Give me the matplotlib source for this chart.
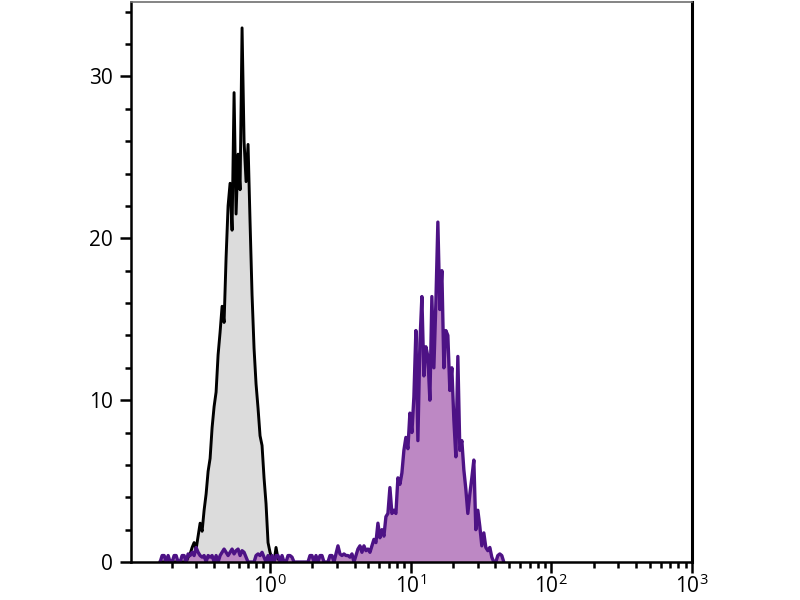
import numpy as np
import matplotlib
matplotlib.use("Agg")
import matplotlib.pyplot as plt
from matplotlib.ticker import FixedLocator, FixedFormatter, NullFormatter

plt.rcParams['font.family'] = ['Open Sans', 'DejaVu Sans']
plt.rcParams['mathtext.fontset'] = 'custom'
plt.rcParams['mathtext.rm'] = 'Open Sans'

# histogram channels (log10 of fluorescence), 2 px per channel in the original
log_start = -0.78
log_step = 0.0142

# isotype control (grey)
control_counts = [
    0, 0, 0, 0, 0, 0, 0, 0, 0, 0, 0, 0, 0, 0, 0.3, 0.5, 0.9, 1.2, 0.8, 1.6,
    2.4, 1.9, 3.2, 4.2, 5.6, 6.4, 8.3, 9.6, 10.5, 12.8, 14.2, 15.8, 14.8, 18.8, 22.0, 23.4, 20.5, 29.0, 21.5, 25.2,
    23.0, 33.0, 26.0, 23.5, 25.8, 21.0, 16.5, 13.2, 11.0, 9.5, 7.8, 7.2, 5.2, 3.6, 1.2, 0.6, 0.2, 0.0, 0.9, 0.2,
]

# stained sample (purple)
stained_counts = [
    0, 0.4, 0.4, 0, 0.4, 0, 0, 0.4, 0.4, 0, 0, 0.4, 0.4, 0, 0.5, 0.4, 0.6, 0.4, 0.9, 0.6,
    0.4, 0.3, 0.4, 0, 0.4, 0.3, 0.4, 0, 0.4, 0, 0.4, 0.6, 0.8, 0.6, 0.4, 0.6, 0.8, 0.5, 0.7, 0.8,
    0.4, 0.7, 0.6, 0.3, 0, 0, 0, 0, 0.4, 0.5, 0.4, 0.6, 0.3, 0, 0.4, 0, 0.4, 0, 0.4, 0.4,
    0, 0.4, 0, 0, 0.4, 0.4, 0.3, 0, 0, 0, 0, 0, 0, 0, 0, 0.4, 0.4, 0, 0.4, 0,
    0.4, 0.4, 0, 0, 0, 0.4, 0.4, 0, 0.5, 1.0, 0.5, 0.4, 0.5, 0.4, 0.4, 0.3, 0.5, 0, 0.4, 0.8,
    1.0, 0.6, 1.0, 0.7, 0.8, 0.6, 1.0, 1.4, 1.2, 2.4, 1.5, 2.0, 1.6, 2.8, 3.0, 4.6, 3.0, 3.2, 3.0, 5.2,
    4.8, 5.5, 6.9, 7.7, 7.0, 9.2, 8.0, 10.2, 14.3, 7.5, 13.5, 16.4, 11.5, 13.3, 12.7, 10.0, 16.4, 12.0, 16.0, 21.0,
    15.6, 18.0, 12.0, 14.3, 14.0, 10.6, 12.0, 8.8, 6.5, 12.7, 6.9, 7.5, 5.7, 4.5, 3.0, 4.2, 5.2, 6.3, 2.0, 3.2,
    2.2, 1.0, 1.8, 0.9, 0.7, 0.9, 0.3, 0, 0, 0.4, 0.5, 0.4, 0,
]

x_ticks = [0.1, 1, 10, 100, 1000]
x_labels = ['', r'$\mathregular{10^{0}}$', r'$\mathregular{10^{1}}$',
            r'$\mathregular{10^{2}}$', r'$\mathregular{10^{3}}$']
y_ticks = [0, 10, 20, 30]

x_control = 10 ** (log_start + log_step * np.arange(len(control_counts)))
x_stained = 10 ** (log_start + log_step * np.arange(len(stained_counts)))

fig = plt.figure(figsize=(8, 6), dpi=100)
ax = fig.add_axes([0.16375, 0.0633, 0.70125, 0.9334])

ax.fill_between(x_control, control_counts, 0, color='#dcdcdc', lw=0)
ax.plot(x_control, control_counts, color='black', lw=2.1)
ax.fill_between(x_stained, stained_counts, 0, color='#bd88c4', lw=0)
ax.plot(x_stained, stained_counts, color='#4d1285', lw=2.4)

ax.set_xscale('log')
ax.set_xlim(0.103, 1000)
ax.set_ylim(0, 34.6)

ax.xaxis.set_major_locator(FixedLocator(x_ticks))
ax.xaxis.set_major_formatter(FixedFormatter(x_labels))
minors = [m * 10.0 ** d for d in range(-1, 3) for m in range(2, 10)]
ax.xaxis.set_minor_locator(FixedLocator(minors))
ax.xaxis.set_minor_formatter(NullFormatter())

ax.set_yticks(y_ticks)
ax.set_yticks(np.arange(0, 35, 2), minor=True)

ax.tick_params(which='major', direction='out', length=8, width=1.8, labelsize=15, colors='black')
ax.tick_params(axis='y', which='major', pad=5)
ax.tick_params(axis='x', which='major', pad=1)
ax.tick_params(which='minor', direction='out', length=4, width=1.8)
ax.tick_params(top=False, right=False)

for side in ['left', 'bottom']:
    ax.spines[side].set_linewidth(1.8)
ax.spines['right'].set_linewidth(2.2)
ax.spines['top'].set_linewidth(1.2)
ax.spines['top'].set_color('#707070')

plt.savefig('out.png', dpi=100)
